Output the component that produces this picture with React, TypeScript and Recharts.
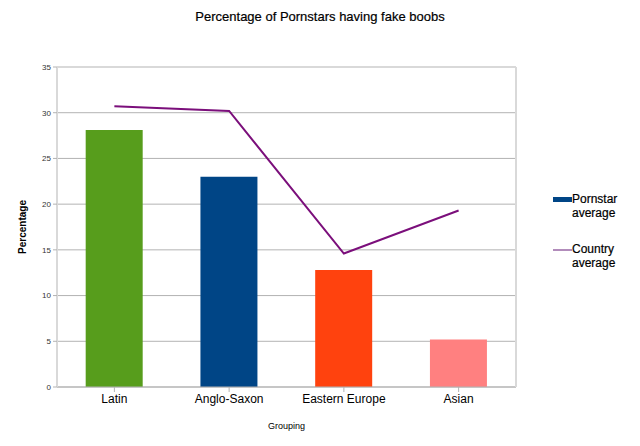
import { ComposedChart, Bar, Line, XAxis, YAxis, CartesianGrid, Cell, Label } from 'recharts';

const categories = ['Latin', 'Anglo-Saxon', 'Eastern Europe', 'Asian'];
const pornstarAverage = [28.1, 23.0, 12.8, 5.2];
const countryAverage = [30.7, 30.2, 14.6, 19.3];
const yTicks = [0, 5, 10, 15, 20, 25, 30, 35];

const BAR_COLORS = ['#579d1c', '#004586', '#ff420e', '#ff8080'];
const LINE_COLOR = '#7b0f7b';

const data = categories.map((name, i) => ({
  name,
  pornstar: pornstarAverage[i],
  country: countryAverage[i],
}));

const FONT = '"Liberation Sans", Arial, sans-serif';

function ChartLegend() {
  return (
    <div style={{ position: 'absolute', left: 553, top: 192, fontFamily: FONT, fontSize: 12, color: '#000', lineHeight: '14px', WebkitTextStroke: '0.2px #000' }}>
      <div style={{ display: 'flex', alignItems: 'flex-start', marginBottom: 22 }}>
        <div style={{ width: 19, height: 5, background: '#004586', marginTop: 5 }} />
        <div style={{ width: 60 }}>Pornstar<br />average</div>
      </div>
      <div style={{ display: 'flex', alignItems: 'flex-start' }}>
        <div style={{ width: 19, height: 2, background: '#b28cbb', marginTop: 7 }} />
        <div style={{ width: 60 }}>Country<br />average</div>
      </div>
    </div>
  );
}

export default function App() {
  return (
    <div style={{ position: 'absolute', left: 0, top: 0, width: 640, height: 446, background: '#fff', fontFamily: FONT }}>
      <div style={{ position: 'absolute', left: 0, top: 9, width: 640, textAlign: 'center', fontSize: 13, color: '#000', WebkitTextStroke: '0.2px #000' }}>
        Percentage of Pornstars having fake boobs
      </div>
      <ComposedChart
        width={640}
        height={446}
        data={data}
        margin={{ top: 67, right: 124, left: 0, bottom: 0 }}
        barCategoryGap="25%"
      >
        <CartesianGrid vertical={false} stroke="#b3b3b3" />
        <XAxis
          dataKey="name"
          height={59}
          tick={{ fill: '#000', fontSize: 12, fontFamily: FONT }}
          tickLine={{ stroke: '#b3b3b3' }}
          axisLine={{ stroke: '#b3b3b3' }}
          tickSize={5}
          tickMargin={2}
        >
          <Label value="Grouping" position="insideBottom" offset={17} style={{ fontSize: 9, fill: '#000', fontFamily: FONT }} />
        </XAxis>
        <YAxis
          width={57}
          domain={[0, 35]}
          ticks={yTicks}
          interval={0}
          tick={{ fill: '#333', fontSize: 8, fontFamily: FONT }}
          tickLine={{ stroke: '#b3b3b3' }}
          axisLine={{ stroke: '#d9d9d9', strokeWidth: 2 }}
          tickSize={4}
          tickMargin={2}
        >
          <Label
            value="Percentage"
            angle={-90}
            position="insideLeft"
            offset={22}
            style={{ fontSize: 10, fontWeight: 'bold', fill: '#000', fontFamily: FONT, textAnchor: 'middle' }}
          />
        </YAxis>
        <Bar dataKey="pornstar" name="Pornstar average" fill="#004586" isAnimationActive={false}>
          {data.map((entry, index) => (
            <Cell key={`cell-${index}`} fill={BAR_COLORS[index]} />
          ))}
        </Bar>
        <Line
          dataKey="country"
          name="Country average"
          type="linear"
          stroke={LINE_COLOR}
          strokeWidth={2}
          dot={false}
          activeDot={false}
          isAnimationActive={false}
        />
      </ComposedChart>
      <div style={{ position: 'absolute', left: 515, top: 67, width: 2, height: 320, background: '#d9d9d9' }} />
      <ChartLegend />
    </div>
  );
}
